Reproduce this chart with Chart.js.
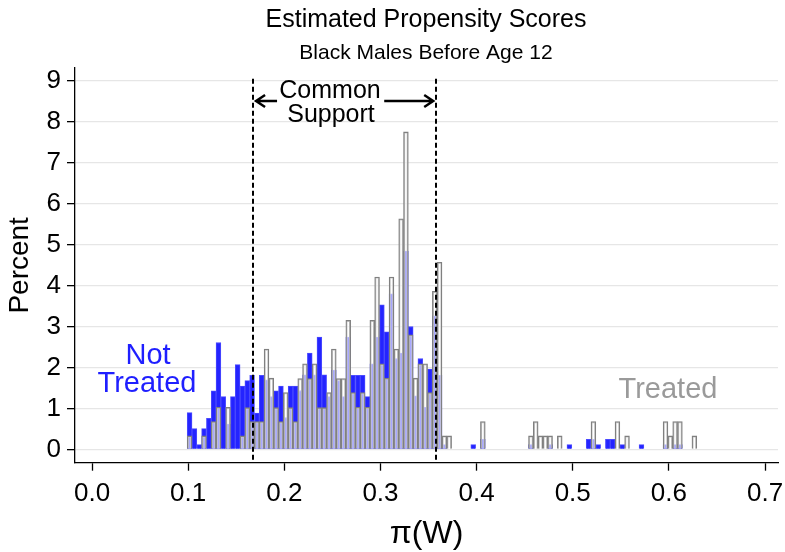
<!DOCTYPE html>
<html lang="en">
<head>
<meta charset="UTF-8">
<title>Estimated Propensity Scores</title>
<script src="https://cdn.jsdelivr.net/npm/chart.js"></script>
<style>
    body { margin: 0; background: #fff; }
    .wrap { width: 785px; height: 552px; position: relative; }
</style>
</head>
<body>
<div class="wrap"><canvas id="psChart"></canvas></div>
<script>
    // histogram bins: 0.005 wide, first bin starts at 0.099
    const binStart = 0.099;
    const binWidth = 0.005;

    // percent of each group in each bin
    const notTreated = [
        0.90, 0.51, 0.12, 0.51, 0.76, 1.43, 2.61, 1.29, 0.62, 1.29,
        2.07, 1.55, 1.68, 1.81, 0.89, 1.81, 1.70, 1.29, 1.43, 1.55,
        0.78, 1.55, 1.55, 1.44, 1.82, 2.35, 1.82, 2.74, 1.82, 1.29,
        1.94, 1.68, 1.29, 2.74, 1.81, 1.81, 1.81, 1.29, 2.09, 2.74,
        3.53, 2.87, 3.80, 2.22, 2.35, 4.84, 3.00, 1.31, 2.22, 1.03,
        1.96, 3.26, 1.81, 0.12, 0, 0, 0, 0, 0, 0.12,
        0, 0.25, 0, 0, 0, 0, 0, 0, 0, 0,
        0, 0.12, 0, 0, 0, 0.12, 0, 0, 0, 0.12,
        0, 0, 0, 0.25, 0.25, 0.12, 0, 0.25, 0.25, 0,
        0.12, 0, 0, 0, 0.12, 0, 0, 0, 0, 0.12,
        0, 0.12, 0.12, 0, 0, 0
    ];
    const treated = [
        0.33, 0, 0, 0.33, 0, 0.68, 1.03, 0, 1.03, 0,
        0, 0.33, 1.02, 0.68, 0.68, 0.68, 2.45, 1.74, 1.02, 0.68,
        1.39, 1.02, 0.68, 1.73, 2.09, 1.73, 2.09, 1.02, 1.02, 1.39,
        2.45, 1.73, 1.73, 3.15, 1.39, 1.03, 1.39, 1.03, 3.15, 4.21,
        2.09, 1.74, 4.21, 2.45, 5.63, 7.75, 2.80, 1.74, 2.09, 2.09,
        1.39, 3.86, 4.57, 0.33, 0.33, 0, 0, 0, 0, 0,
        0, 0.68, 0, 0, 0, 0, 0, 0, 0, 0,
        0, 0.33, 0.68, 0.33, 0.33, 0.33, 0, 0.33, 0, 0,
        0, 0, 0, 0, 0.68, 0, 0, 0, 0, 0.68,
        0, 0.33, 0, 0, 0, 0, 0, 0, 0, 0.68,
        0.33, 0.68, 0.68, 0, 0, 0.33
    ];

    const xTicks = [0, 0.1, 0.2, 0.3, 0.4, 0.5, 0.6, 0.7];
    const yTicks = [0, 1, 2, 3, 4, 5, 6, 7, 8, 9];
    const supportBounds = [0.1675, 0.358];

    const FONT = "'Liberation Sans', Arial, sans-serif";

    function toPoints(values) {
        return values.map((v, i) => ({ x: binStart + binWidth * (i + 0.5), y: v > 0 ? v : null }));
    }

    // titles, common support lines and the group labels
    const annotate = {
        id: 'annotate',
        afterDatasetsDraw(chart) {
            const { ctx, scales: { x, y }, chartArea } = chart;
            ctx.save();

            // dashed common support bounds
            ctx.strokeStyle = '#000';
            ctx.lineWidth = 2;
            ctx.setLineDash([5, 3]);
            supportBounds.forEach(b => {
                const px = Math.round(x.getPixelForValue(b));
                ctx.beginPath();
                ctx.moveTo(px, y.getPixelForValue(9) - 2);
                ctx.lineTo(px, chartArea.bottom);
                ctx.stroke();
            });
            ctx.setLineDash([]);

            // arrows
            const ay = 101;
            const l = x.getPixelForValue(supportBounds[0]) + 3;
            const r = x.getPixelForValue(supportBounds[1]) - 3;
            ctx.lineWidth = 2.5;
            ctx.beginPath();
            ctx.moveTo(l + 21, ay); ctx.lineTo(l, ay);
            ctx.moveTo(l + 9, ay - 6); ctx.lineTo(l, ay); ctx.lineTo(l + 9, ay + 6);
            ctx.moveTo(r - 49, ay); ctx.lineTo(r, ay);
            ctx.moveTo(r - 9, ay - 6); ctx.lineTo(r, ay); ctx.lineTo(r - 9, ay + 6);
            ctx.stroke();

            ctx.textAlign = 'center';
            ctx.textBaseline = 'middle';
            ctx.fillStyle = '#000';
            ctx.font = '25px ' + FONT;
            ctx.fillText('Common', 330, 91);
            ctx.fillText('Support', 331, 115);

            // titles
            ctx.font = '25px ' + FONT;
            ctx.fillText('Estimated Propensity Scores', 426, 20);
            ctx.font = '21px ' + FONT;
            ctx.fillText('Black Males Before Age 12', 426, 53);

            // group labels
            ctx.font = '29px ' + FONT;
            ctx.fillStyle = '#1f1fff';
            ctx.fillText('Not', 148, 356);
            ctx.fillText('Treated', 147, 384);
            ctx.fillStyle = '#9a9a9a';
            ctx.fillText('Treated', 668, 390);
            ctx.restore();
        }
    };

    const ctx = document.getElementById('psChart').getContext('2d');
    const psChart = new Chart(ctx, {
        type: 'bar',
        data: {
            datasets: [
                {
                    label: 'Treated',
                    data: toPoints(treated),
                    backgroundColor: 'rgba(255,255,255,0.6)',
                    borderColor: '#808080',
                    borderWidth: 1.3,
                    grouped: false,
                    order: 0,
                    barPercentage: 1,
                    categoryPercentage: 1
                },
                {
                    label: 'Not Treated',
                    data: toPoints(notTreated),
                    backgroundColor: '#2424ff',
                    borderColor: '#4a4aff',
                    borderWidth: 1,
                    grouped: false,
                    order: 1,
                    barPercentage: 1,
                    categoryPercentage: 1
                }
            ]
        },
        options: {
            responsive: true,
            maintainAspectRatio: false,
            devicePixelRatio: 1,
            animation: false,
            layout: { padding: { top: 68, right: 7, left: 0, bottom: 0 } },
            plugins: {
                legend: { display: false },
                tooltip: { enabled: false }
            },
            scales: {
                x: {
                    type: 'linear',
                    min: -0.0177,
                    max: 0.7135,
                    offset: false,
                    afterBuildTicks: s => { s.ticks = xTicks.map(v => ({ value: v })); },
                    afterFit: s => { s.height = 89.3; s.paddingLeft = 0; s.paddingRight = 0; },
                    ticks: {
                        callback: v => v.toFixed(1),
                        color: '#000',
                        font: { family: FONT, size: 26 },
                        padding: 8,
                        maxRotation: 0
                    },
                    grid: { offset: false, drawOnChartArea: false, tickLength: 8, tickColor: '#000', tickWidth: 1.3 },
                    border: { color: '#000', width: 1.3 },
                    title: {
                        display: true,
                        text: 'π(W)',
                        color: '#000',
                        font: { family: FONT, size: 32, lineHeight: 1.1 },
                        padding: { top: 0, bottom: 0 }
                    }
                },
                y: {
                    min: -0.323,
                    max: 9.31,
                    afterBuildTicks: s => { s.ticks = yTicks.map(v => ({ value: v })); },
                    afterFit: s => { s.width = 75; s.paddingTop = 0; s.paddingBottom = 0; },
                    ticks: {
                        color: '#000',
                        font: { family: FONT, size: 26 },
                        padding: 6
                    },
                    grid: { color: '#e6e6e6', lineWidth: 1.3, tickLength: 8, tickColor: '#000', tickWidth: 1.3 },
                    border: { color: '#000', width: 1.3 },
                    title: {
                        display: true,
                        text: 'Percent',
                        color: '#000',
                        font: { family: FONT, size: 28 },
                        padding: { top: 3, bottom: 0 }
                    }
                }
            }
        },
        plugins: [annotate]
    });
</script>
</body>
</html>
